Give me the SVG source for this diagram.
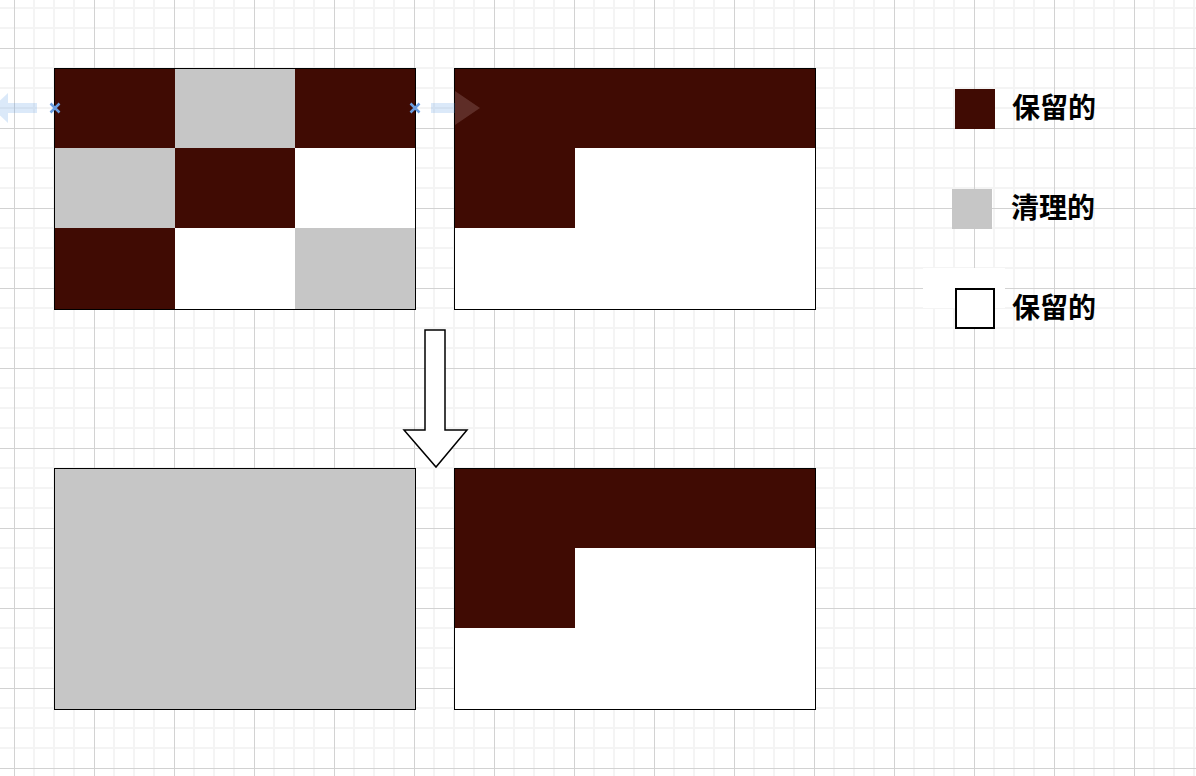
<svg xmlns="http://www.w3.org/2000/svg" width="1196" height="776" viewBox="0 0 1196 776">
  <defs>
    <pattern id="grid" patternUnits="userSpaceOnUse" x="14" y="48" width="80" height="80">
      <rect x="0" y="0" width="80" height="80" fill="#ffffff"/>
      <rect x="19" y="0" width="2" height="80" fill="#f4f4f4"/>
      <rect x="39" y="0" width="2" height="80" fill="#f4f4f4"/>
      <rect x="59" y="0" width="2" height="80" fill="#f4f4f4"/>
      <rect x="0" y="19" width="80" height="2" fill="#f4f4f4"/>
      <rect x="0" y="39" width="80" height="2" fill="#f4f4f4"/>
      <rect x="0" y="59" width="80" height="2" fill="#f4f4f4"/>
      <rect x="0" y="0" width="1" height="80" fill="#d2d2d2"/>
      <rect x="0" y="0" width="80" height="1" fill="#d2d2d2"/>
    </pattern>
    <style>
      .d { fill: #400b03; }
      .g { fill: #c6c6c6; }
      .w { fill: #ffffff; }
      .frame { fill: none; stroke: #000000; stroke-width: 1; }
      .lbl { font-family: "Noto Sans CJK SC", "Noto Sans", sans-serif; font-weight: bold; font-size: 28px; fill: #000000; }
      .ghost { fill: #4a90e2; opacity: 0.2; }
      .ghost2 { fill: #d8b8b8; opacity: 0.2; }
      .xmark { stroke: #6a9de0; stroke-width: 2.5; fill: none; }
    </style>
  </defs>

  <rect x="0" y="0" width="1196" height="776" fill="url(#grid)"/>

  <g id="before-mixed">
    <rect class="d" x="54" y="68" width="121" height="80"/>
    <rect class="g" x="175" y="68" width="120" height="80"/>
    <rect class="d" x="295" y="68" width="120" height="80"/>
    <rect class="g" x="54" y="148" width="121" height="80"/>
    <rect class="d" x="175" y="148" width="120" height="80"/>
    <rect class="w" x="295" y="148" width="120" height="80"/>
    <rect class="d" x="54" y="228" width="121" height="81"/>
    <rect class="w" x="175" y="228" width="120" height="81"/>
    <rect class="g" x="295" y="228" width="120" height="81"/>
    <rect class="frame" x="54.5" y="68.5" width="361" height="241"/>
  </g>

  <g id="before-compact">
    <rect class="w" x="455" y="68" width="360" height="241"/>
    <rect class="d" x="455" y="68" width="360" height="80"/>
    <rect class="d" x="455" y="148" width="120" height="80"/>
    <rect class="frame" x="454.5" y="68.5" width="361" height="241"/>
  </g>

  <g id="after-cleared">
    <rect class="g" x="54" y="468" width="361" height="241"/>
    <rect class="frame" x="54.5" y="468.5" width="361" height="241"/>
  </g>

  <g id="after-compact">
    <rect class="w" x="455" y="468" width="360" height="241"/>
    <rect class="d" x="455" y="468" width="360" height="80"/>
    <rect class="d" x="455" y="548" width="120" height="80"/>
    <rect class="frame" x="454.5" y="468.5" width="361" height="241"/>
  </g>

  <g id="connectors">
    <polygon points="425,330 445,330 445,430 467,430 436,467 404,430 425,430" fill="#ffffff" stroke="#000000" stroke-width="1.5" stroke-linejoin="miter"/>
    <g id="hover-handles">
      <rect class="ghost" x="8" y="103" width="29" height="10"/>
      <polygon class="ghost" points="8,93 8,123 -8,108"/>
      <rect class="ghost" x="431" y="103" width="24" height="10"/>
      <polygon class="ghost2" points="455,91 455,125 480,108"/>
      <path class="xmark" d="M50.5,103.5 L59.5,112.5 M59.5,103.5 L50.5,112.5"/>
      <path class="xmark" d="M410.5,103.5 L419.5,112.5 M419.5,103.5 L410.5,112.5"/>
    </g>
  </g>

  <g id="legend-kept">
    <rect class="d" x="955" y="89" width="40" height="40"/>
    <text class="lbl" x="1012" y="118">保留的</text>
  </g>
  <g id="legend-cleared">
    <rect class="g" x="952" y="189" width="40" height="40"/>
    <text class="lbl" x="1011" y="218">清理的</text>
  </g>
  <g id="legend-free">
    <rect x="923" y="268" width="82" height="40" fill="#ffffff"/>
    <rect x="956" y="289" width="38" height="39" fill="#ffffff" stroke="#000000" stroke-width="2"/>
    <text class="lbl" x="1012" y="318">保留的</text>
  </g>
</svg>
